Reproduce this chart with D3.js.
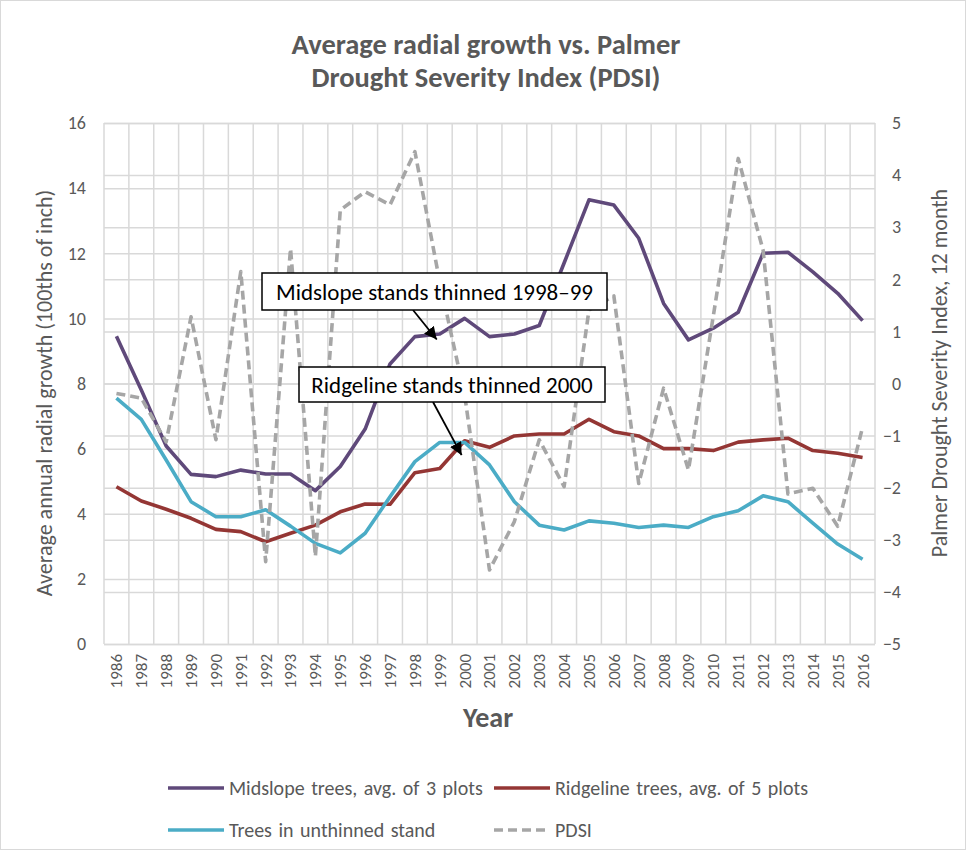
<!DOCTYPE html>
<html>
<head>
<meta charset="utf-8">
<script src="https://cdn.jsdelivr.net/npm/d3@7"></script>
<style>
  body { margin: 0; background: #fff; }
  text { font-family: Calibri, Carlito, Lato, sans-serif; fill: #595959; }
</style>
</head>
<body>
<svg id="chart" width="966" height="854"></svg>
<script>
// years on the x axis
const years = d3.range(1986, 2017);

// average radial growth, 100ths of inch (left axis)
const midslope = [9.45, 7.8, 6.08, 5.21, 5.14, 5.34, 5.22, 5.22, 4.71, 5.45, 6.6, 8.6, 9.44, 9.52, 10.0,
  9.44, 9.52, 9.78, 11.7, 13.64, 13.48, 12.46, 10.46, 9.34, 9.7, 10.19, 12.0, 12.03, 11.43, 10.77, 9.93];
const ridgeline = [4.83, 4.39, 4.14, 3.86, 3.52, 3.45, 3.14, 3.4, 3.65, 4.06, 4.3, 4.29, 5.26, 5.39, 6.24,
  6.04, 6.39, 6.45, 6.45, 6.9, 6.52, 6.39, 6.0, 6.0, 5.94, 6.2, 6.27, 6.32, 5.94, 5.86, 5.73];
const unthinned = [7.55, 6.9, 5.65, 4.37, 3.91, 3.91, 4.12, 3.62, 3.09, 2.8, 3.4, 4.52, 5.6, 6.19, 6.19,
  5.5, 4.37, 3.65, 3.5, 3.78, 3.71, 3.58, 3.65, 3.58, 3.91, 4.09, 4.55, 4.37, 3.71, 3.07, 2.6];
// Palmer Drought Severity Index (right axis)
const pdsi = [-0.19, -0.28, -1.12, 1.28, -1.08, 2.15, -3.42, 2.59, -3.32, 3.33, 3.68, 3.43, 4.45, 1.95, -0.22,
  -3.58, -2.65, -1.08, -1.98, 1.41, 1.68, -1.92, -0.09, -1.66, 1.3, 4.32, 2.56, -2.12, -2.01, -2.74, -0.84];

const leftTicks = d3.range(0, 17, 2);
const rightTicks = d3.range(-5, 6, 1);

const series = [
  { name: "Midslope trees, avg. of 3 plots", values: midslope, color: "#5f497a", axis: "left", dash: null },
  { name: "Ridgeline trees, avg. of 5 plots", values: ridgeline, color: "#943634", axis: "left", dash: null },
  { name: "Trees in unthinned stand", values: unthinned, color: "#4bacc6", axis: "left", dash: null },
  { name: "PDSI", values: pdsi, color: "#a6a6a6", axis: "right", dash: "9,5" }
];

// callouts: box [x, y, w, h], arrow start, arrow tip at (year, value)
const notes = [
  { text: "Midslope stands thinned 1998\u201399", year: 1999, value: 9.35, box: [262, 273, 345, 37], from: [413, 310] },
  { text: "Ridgeline stands thinned 2000", year: 2000, value: 5.8, box: [299, 367, 306, 35], from: [433, 402] }
];

const svg = d3.select("#chart");
const W = 966, H = 854;
const plotL = 104, plotR = 875, plotT = 123, plotB = 644;

// chart area border
svg.append("rect")
  .attr("x", 0.5).attr("y", 0.5)
  .attr("width", W - 1).attr("height", H - 5)
  .attr("fill", "#fff").attr("stroke", "#d9d9d9");

const x = d3.scaleBand().domain(years).range([plotL, plotR]);
const yL = d3.scaleLinear().domain([0, 16]).range([plotB, plotT]);
const yR = d3.scaleLinear().domain([-5, 5]).range([plotB, plotT]);

// vertical gridlines on category borders
svg.append("g")
  .selectAll("line")
  .data(years.concat([years[years.length - 1] + 1]))
  .join("line")
  .attr("x1", (d, i) => plotL + i * x.step())
  .attr("x2", (d, i) => plotL + i * x.step())
  .attr("y1", plotT).attr("y2", plotB)
  .attr("stroke", "#d9d9d9").attr("stroke-width", 1.5);

// left axis + its gridlines
const gL = svg.append("g")
  .attr("transform", `translate(${plotL},0)`)
  .call(d3.axisLeft(yL).tickValues(leftTicks).tickSize(-(plotR - plotL)).tickPadding(18));
// right axis + its gridlines
const gR = svg.append("g")
  .attr("transform", `translate(${plotR},0)`)
  .call(d3.axisRight(yR).tickValues(rightTicks).tickSize(-(plotR - plotL)).tickPadding(26));

[gL, gR].forEach(g => {
  g.select(".domain").remove();
  g.selectAll(".tick line").attr("stroke", "#d9d9d9").attr("stroke-width", 1.5);
  g.selectAll(".tick text").style("font-size", "18px").attr("fill", "#595959");
});
gR.selectAll(".tick text").attr("text-anchor", "end");

// x axis, rotated year labels
const gX = svg.append("g")
  .attr("transform", `translate(0,${plotB})`)
  .call(d3.axisBottom(x).tickSize(0).tickPadding(0));
gX.select(".domain").remove();
gX.selectAll(".tick text")
  .attr("transform", "rotate(-90)")
  .attr("text-anchor", "end")
  .attr("x", -10).attr("y", 0).attr("dy", "0.35em")
  .style("font-size", "17px").attr("fill", "#595959");

// series lines
series.forEach(s => {
  const yS = s.axis === "left" ? yL : yR;
  const line = d3.line()
    .x((d, i) => x(years[i]) + x.bandwidth() / 2)
    .y(d => yS(d));
  svg.append("path")
    .datum(s.values)
    .attr("d", line)
    .attr("fill", "none")
    .attr("stroke", s.color)
    .attr("stroke-width", 3.6)
    .attr("stroke-linejoin", "round")
    .attr("stroke-dasharray", s.dash);
});

// annotations
svg.append("defs").append("marker")
  .attr("id", "arrow")
  .attr("viewBox", "0 0 10 10")
  .attr("refX", 10).attr("refY", 5)
  .attr("markerWidth", 7).attr("markerHeight", 7)
  .attr("markerUnits", "strokeWidth")
  .attr("orient", "auto")
  .append("path").attr("d", "M0,0L10,5L0,10z").attr("fill", "#000");

notes.forEach(n => {
  const [bx, by, bw, bh] = n.box;
  const tx = x(n.year) + x.bandwidth() / 2 - 3;
  const ty = yL(n.value);
  svg.append("line")
    .attr("x1", n.from[0]).attr("y1", n.from[1])
    .attr("x2", tx).attr("y2", ty)
    .attr("stroke", "#000").attr("stroke-width", 1.8)
    .attr("marker-end", "url(#arrow)");
  svg.append("rect")
    .attr("x", bx).attr("y", by).attr("width", bw).attr("height", bh)
    .attr("fill", "#fff").attr("stroke", "#000").attr("stroke-width", 1.5);
  svg.append("text")
    .attr("x", bx + bw / 2).attr("y", by + bh / 2)
    .attr("dy", "0.35em").attr("text-anchor", "middle")
    .style("font-size", "23px").style("fill", "#000")
    .text(n.text);
});

// titles
svg.append("text")
  .attr("x", 486).attr("y", 54).attr("text-anchor", "middle")
  .style("font-size", "28.5px").style("font-weight", "bold")
  .text("Average radial growth vs. Palmer");
svg.append("text")
  .attr("x", 486).attr("y", 87).attr("text-anchor", "middle")
  .style("font-size", "28.5px").style("font-weight", "bold")
  .text("Drought Severity Index (PDSI)");

svg.append("text")
  .attr("transform", "translate(52,393) rotate(-90)")
  .attr("text-anchor", "middle")
  .style("font-size", "22px")
  .text("Average annual radial growth (100ths of inch)");
svg.append("text")
  .attr("transform", "translate(947,373) rotate(-90)")
  .attr("text-anchor", "middle")
  .style("font-size", "22px")
  .text("Palmer Drought Severity Index, 12 month");

svg.append("text")
  .attr("x", 488).attr("y", 727).attr("text-anchor", "middle")
  .style("font-size", "28px").style("font-weight", "bold")
  .text("Year");

// legend
const legendPos = [[168, 788], [494, 788], [168, 830], [494, 830]];
const legend = svg.append("g")
  .selectAll("g")
  .data(series)
  .join("g")
  .attr("transform", (d, i) => `translate(${legendPos[i][0]},${legendPos[i][1]})`);
legend.append("line")
  .attr("x1", 0).attr("x2", 56)
  .attr("stroke", d => d.color).attr("stroke-width", 3.6)
  .attr("stroke-dasharray", d => d.dash);
legend.append("text")
  .attr("x", 61).attr("dy", "0.35em")
  .style("font-size", "20px").style("word-spacing", "2px")
  .text(d => d.name);
</script>
</body>
</html>
